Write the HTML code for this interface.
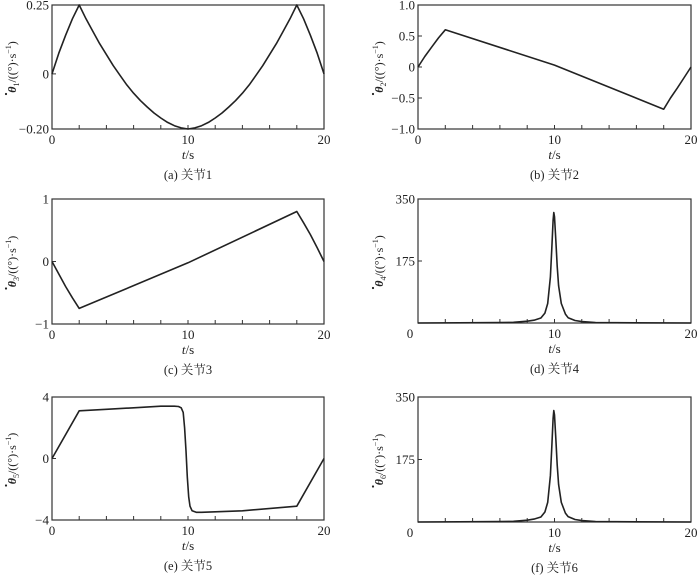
<!DOCTYPE html>
<html><head><meta charset="utf-8"><style>
body{margin:0;background:#fff;width:700px;height:576px;overflow:hidden}
svg{display:block}
text{font-family:"Liberation Serif","Noto Serif CJK SC",serif;fill:#222}
</style></head><body>
<svg id="fig" width="700" height="576" viewBox="0 0 700 576" xmlns="http://www.w3.org/2000/svg"></svg>
<script>
const tA=[0,0.5,1,1.5,2,2.5,3,3.5,4,4.5,5,5.5,6,6.5,7,7.5,8,8.5,9,9.5,10,10.5,11,11.5,12,12.5,13,13.5,14,14.5,15,15.5,16,16.5,17,17.5,18,18.5,19,19.5,20];
const vA=[0,0.075,0.14,0.2,0.25,0.2,0.155,0.11,0.07,0.03,-0.005,-0.04,-0.07,-0.097,-0.12,-0.142,-0.16,-0.176,-0.188,-0.196,-0.2,-0.196,-0.188,-0.176,-0.16,-0.142,-0.12,-0.097,-0.07,-0.04,-0.005,0.03,0.07,0.11,0.155,0.2,0.25,0.2,0.14,0.075,0];
const tB=[0,0.5,1,1.5,2,10,18,18.5,19,19.5,20];
const vB=[0,0.17,0.32,0.47,0.6,0.03,-0.68,-0.5,-0.34,-0.17,0];
const tC=[0,0.5,1,1.5,2,10,18,18.5,19,19.5,20];
const vC=[0,-0.2,-0.4,-0.58,-0.75,-0.02,0.8,0.62,0.43,0.22,0];
const tD=[0,6,7,8,8.5,9,9.3,9.5,9.7,9.8,9.9,9.95,10,10.1,10.2,10.3,10.5,10.8,11,11.5,12,13,20];
const vD=[0,1,2,5,8,14,28,55,130,210,290,312,300,230,160,105,55,25,15,7,4,1,0];
const tE=[0,2,4,6,8,9,9.3,9.5,9.65,9.75,9.85,9.95,10.05,10.15,10.3,10.6,11,14,18,20];
const vE=[0,3.1,3.2,3.3,3.4,3.4,3.38,3.3,3.0,2.0,0.5,-1.2,-2.5,-3.1,-3.4,-3.5,-3.5,-3.4,-3.1,0];
const tF=tD;
const vF=vD;
const yTicksA=[0.25,0,-0.2], yLabA=["0.25","0","−0.20"];
const yTicksB=[1,0.5,0,-0.5,-1], yLabB=["1.0","0.5","0","−0.5","−1.0"];
const yTicksC=[1,0,-1], yLabC=["1","0","−1"];
const yTicksD=[350,175], yLabD=["350","175"];
const yTicksE=[4,0,-4], yLabE=["4","0","−4"];
const xTicks=[0,10,20], xLab=["0","10","20"];
const NS="http://www.w3.org/2000/svg";
const svg=document.getElementById('fig');
function mk(tag,attrs,parent){const e=document.createElementNS(NS,tag);for(const k in attrs)e.setAttribute(k,attrs[k]);(parent||svg).appendChild(e);return e;}
const panels=[
 {id:'a',L:52,R:324,T:5,B:129,ymin:-0.2,ymax:0.25,t:tA,v:vA,yt:yTicksA,yl:yLabA,sub:"1",cap:"(a) 关节1",zero:false},
 {id:'b',L:418,R:691,T:5,B:129,ymin:-1,ymax:1,t:tB,v:vB,yt:yTicksB,yl:yLabB,sub:"2",cap:"(b) 关节2",zero:false},
 {id:'c',L:52,R:324,T:199,B:324,ymin:-1,ymax:1,t:tC,v:vC,yt:yTicksC,yl:yLabC,sub:"3",cap:"(c) 关节3",zero:false},
 {id:'d',L:418,R:691,T:199,B:323,ymin:0,ymax:350,t:tD,v:vD,yt:yTicksD,yl:yLabD,sub:"4",cap:"(d) 关节4",zero:true},
 {id:'e',L:52,R:324,T:397,B:520,ymin:-4,ymax:4,t:tE,v:vE,yt:yTicksE,yl:yLabE,sub:"5",cap:"(e) 关节5",zero:false},
 {id:'f',L:418,R:691,T:397,B:522,ymin:0,ymax:350,t:tF,v:vF,yt:yTicksD,yl:yLabD,sub:"6",cap:"(f) 关节6",zero:true}
];
panels.forEach(p=>{
 const g=mk('g',{});
 
 
 const X=t=>p.L+(t/20)*(p.R-p.L);
 const Y=v=>p.B-(v-p.ymin)/(p.ymax-p.ymin)*(p.B-p.T);
 const box=mk('rect',{x:p.L,y:p.T,width:p.R-p.L,height:p.B-p.T,fill:'none',stroke:'#333','stroke-width':1.2},g);
 
 
 for(let t=2;t<20;t+=2){mk('line',{x1:X(t),x2:X(t),y1:p.B,y2:p.B-4,stroke:'#333','stroke-width':1},g);}
 p.yt.forEach((v,i)=>{
  mk('line',{x1:p.L,x2:p.L+4,y1:Y(v),y2:Y(v),stroke:'#333','stroke-width':1},g);
  const tx=mk('text',{x:p.L-3,y:Y(v)+4.5,'font-size':13,'text-anchor':'end'},g);
  tx.textContent=p.yl[i];
  
  
 });
 xTicks.forEach((t,i)=>{
  const tx=mk('text',{x:X(t)+(p.zero&&i==0?-8:0),y:p.B+15,'font-size':13,'text-anchor':'middle'},g);
  tx.textContent=xLab[i];
  
  
 });
 const xt=mk('text',{x:(p.L+p.R)/2,y:p.B+30,'font-size':13,'text-anchor':'middle'},g);
 xt.innerHTML='<tspan font-style="italic">t</tspan>/s';
 
 
 const cp=mk('text',{x:(p.L+p.R)/2,y:p.B+50,'font-size':12.5,'text-anchor':'middle'},g);
 cp.textContent=p.cap;
 
 
 const cy=(p.T+p.B)/2, lx=(p.id=='a'||p.id=='c'||p.id=='e')?16:383;
 const yt=mk('text',{x:lx,y:cy,'font-size':12,'text-anchor':'middle',transform:`rotate(-90 ${lx} ${cy})`},g);
 yt.innerHTML='<tspan font-style="italic" font-weight="bold">θ</tspan><tspan font-size="8" dy="3">'+p.sub+'</tspan><tspan dy="-3">/((°)·s</tspan><tspan font-size="8" dy="-5">−1</tspan><tspan dy="5">)</tspan>';
 
 
 mk('circle',{cx:lx-10,cy:cy+27,r:1.1,fill:'#222'},g);
 let d='';
 p.t.forEach((t,i)=>{d+=(i?'L':'M')+X(t).toFixed(1)+','+Y(p.v[i]).toFixed(1);});
 const ln=mk('path',{d:d,fill:'none',stroke:'#222','stroke-width':1.6,'stroke-linejoin':'round'},g);
 
 
});
</script>
</body></html>
